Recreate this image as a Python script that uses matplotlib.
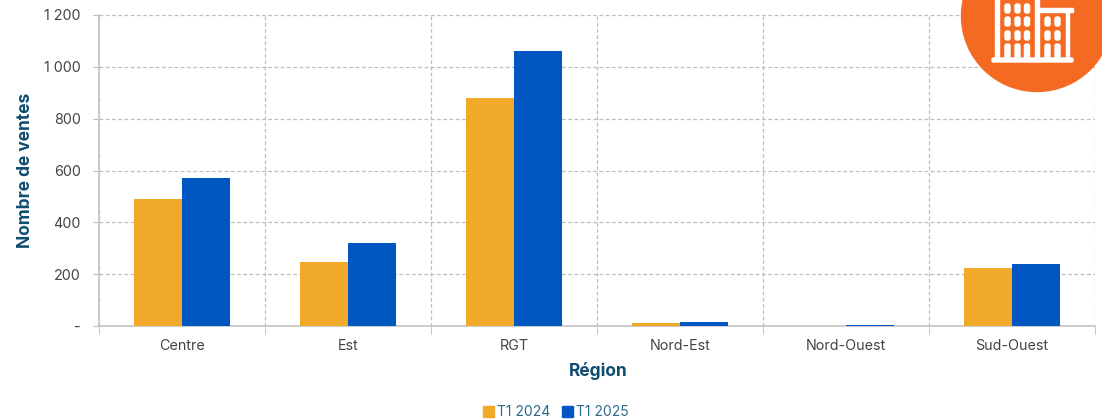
import numpy as np
import matplotlib
matplotlib.use('Agg')
import matplotlib.pyplot as plt
from matplotlib.patches import Circle, Rectangle, FancyBboxPatch

# Values
regions = ['Centre', 'Est', 'RGT', 'Nord-Est', 'Nord-Ouest', 'Sud-Ouest']
t1_2024 = [490, 248, 880, 12, 1, 225]
t1_2025 = [572, 320, 1062, 14, 5, 238]
y_ticks = [0, 200, 400, 600, 800, 1000, 1200]
y_labels = ['-', '200', '400', '600', '800', '1 000', '1 200']

plt.rcParams['font.family'] = ['Inter', 'DejaVu Sans']

W, H = 1102, 420
fig = plt.figure(figsize=(W / 100, H / 100), dpi=100)
ax = fig.add_axes([99 / W, 1 - 326 / H, 996 / W, 311 / H])

x = np.arange(len(regions))
bar_w = 0.292
ax.bar(x - bar_w / 2, t1_2024, bar_w, color='#F0A928', zorder=3)
ax.bar(x + bar_w / 2, t1_2025, bar_w, color='#0057C2', zorder=3)

ax.set_xlim(-0.5, 5.5)
ax.set_ylim(0, 1200)
ax.set_yticks(y_ticks)
ax.set_yticklabels(y_labels, fontsize=10.3, color='#444444')

# Gridlines sit between the categories, so ticks go on minor positions
ax.set_xticks(x)
ax.set_xticklabels(regions, fontsize=10.3, color='#444444')
ax.set_xticks(np.arange(-0.5, 6), minor=True)
ax.tick_params(axis='x', which='major', length=0, pad=9.5)
ax.tick_params(axis='x', which='minor', length=6, color='#BBBBBB')
ax.tick_params(axis='y', length=4, color='#BBBBBB', pad=9)

ax.grid(True, axis='y', color='#BDBDBD', linestyle=(0, (3, 2)), linewidth=0.9, zorder=0)
ax.grid(True, axis='x', which='minor', color='#BDBDBD', linestyle=(0, (3, 2)), linewidth=0.9, zorder=0)
ax.grid(False, axis='x', which='major')

for side in ['top', 'right']:
    ax.spines[side].set_visible(False)
ax.spines['left'].set_color('#C4C4C4')
ax.spines['bottom'].set_color('#C4C4C4')
ax.spines['left'].set_linewidth(1.2)
ax.spines['bottom'].set_linewidth(1.2)

title_col = '#0F4C71'
fig.text(26 / W, 1 - 170 / H, 'Nombre de ventes', rotation=90, ha='center', va='center',
         fontsize=12.5, fontweight='bold', color=title_col)
fig.text(598 / W, 1 - 371 / H, 'Région', ha='center', va='center',
         fontsize=12.5, fontweight='bold', color=title_col)

# Pixel overlay for the legend and the building badge
ov = fig.add_axes([0, 0, 1, 1], zorder=5)
ov.set_xlim(0, W)
ov.set_ylim(H, 0)
ov.axis('off')

ov.add_patch(Rectangle((483, 406), 11, 11, color='#F0A928'))
ov.text(497, 411.5, 'T1 2024', fontsize=10, color='#2C6A8E', va='center')
ov.add_patch(Rectangle((562, 406), 11, 11, color='#0057C2'))
ov.text(576, 411.5, 'T1 2025', fontsize=10, color='#2C6A8E', va='center')

orange = '#F56A23'
ov.add_patch(Circle((1037, 16), 75.5, color=orange))

# Building outlines
white = 'white'
ov.add_patch(FancyBboxPatch((992, 58), 81, 4, boxstyle='round,pad=0,rounding_size=1.5', color=white))
ov.add_patch(Rectangle((995, 0), 4, 60, color=white))
ov.add_patch(Rectangle((1035, 0), 4, 60, color=white))
ov.add_patch(Rectangle((1039, 8), 34, 4, color=white))
ov.add_patch(Rectangle((1066, 10), 3, 50, color=white))

# Windows of the tall block
for wx in [1005, 1015, 1024.5]:
    for wy in [4, 17, 31]:
        ov.add_patch(FancyBboxPatch((wx, wy), 5, 9, boxstyle='round,pad=0,rounding_size=2', color=white))
    ov.add_patch(FancyBboxPatch((wx, 44), 5, 15, boxstyle='round,pad=0,rounding_size=2', color=white))

# Windows of the short block
for wx in [1045, 1055]:
    for wy in [17, 31]:
        ov.add_patch(FancyBboxPatch((wx, wy), 5, 9, boxstyle='round,pad=0,rounding_size=2', color=white))
    ov.add_patch(FancyBboxPatch((wx, 44), 5, 15, boxstyle='round,pad=0,rounding_size=2', color=white))

fig.savefig('out.png', dpi=100)
